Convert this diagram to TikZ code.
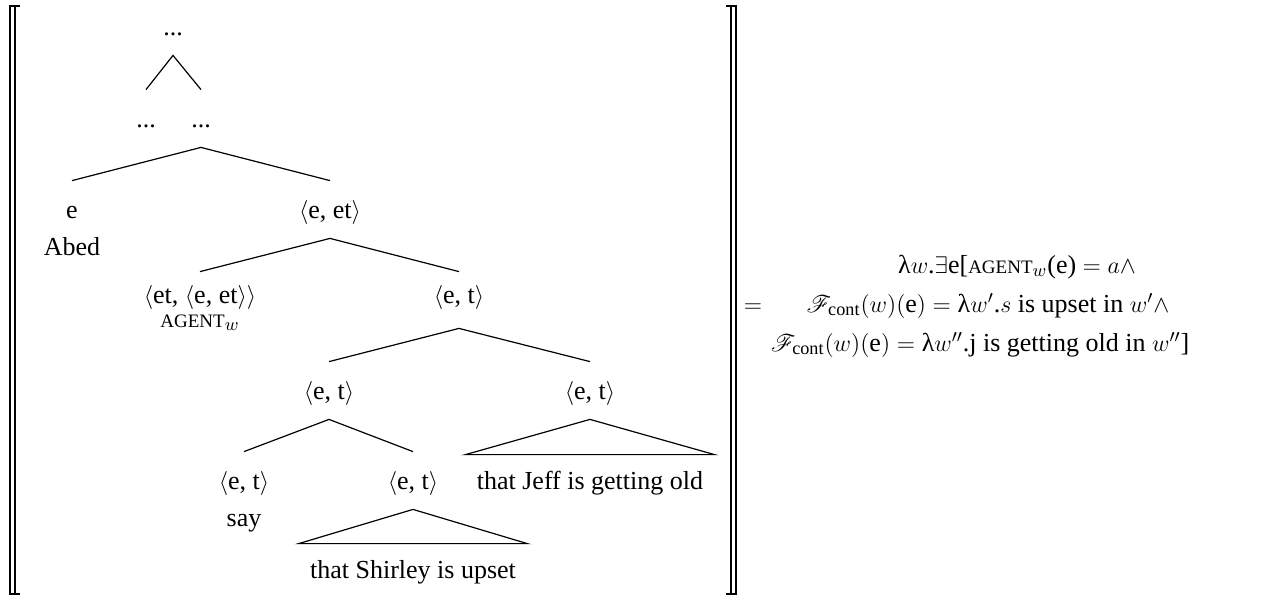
\documentclass[tikz,border=0pt]{standalone}
\usepackage{fontspec}
\usepackage{amsmath}
\usepackage{mathrsfs}
\setmainfont{Liberation Serif}
\newcommand{\tp}[1]{$\langle$#1$\rangle$}
\newcommand{\agt}{{\fontsize{9.5}{11}\selectfont AGENT}$_{w}$}
\newcommand{\Fc}{\mathscr{F}_{\text{cont}}}
\begin{document}
\begin{tikzpicture}[x=0.5pt,y=-0.5pt,
  lab/.style={anchor=base, inner sep=0pt, text height=18.5pt, text depth=10pt},
  lowlab/.style={lab, text height=15.5pt},
  plain/.style={anchor=base, inner sep=0pt},
  roof/.style={anchor=base, inner xsep=5.5pt, inner ysep=0pt, text height=17pt, text depth=4pt},
  branch/.style={line width=0.6pt},
  brk/.style={line width=0.8pt},
  every node/.style={font=\fontsize{13}{15}\selectfont}]
\useasboundingbox (0,0) rectangle (1274,596);
% brackets
\draw[brk] (20,6) -- (10,6) -- (10,594) -- (20,594);
\draw[brk] (15,6) -- (15,594);
\draw[brk] (726,6) -- (736,6) -- (736,594) -- (726,594);
\draw[brk] (731,6) -- (731,594);
% tree nodes
\node[lab] (top) at (173,35) {...};
\node[lab] (d1) at (146,127) {...};
\node[lab] (d2) at (201,127) {...};
\node[lab] (e) at (72,218) {e};
\node[plain] (abed) at (72,255) {Abed};
\node[lab] (eet) at (330,218) {\tp{e, et}};
\node[lowlab] (ag) at (200,303) {\tp{et, \tp{e, et}}};
\node[plain] (agent) at (200,327) {\agt};
\node[lowlab, text depth=12.5pt] (et1) at (459,303) {\tp{e, t}};
\node[lab] (et2) at (329,399) {\tp{e, t}};
\node[lab] (et3) at (590,399) {\tp{e, t}};
\node[lab] (et4) at (244,489) {\tp{e, t}};
\node[plain] (say) at (244,526) {say};
\node[lab] (et5) at (413,489) {\tp{e, t}};
\node[roof] (jeff) at (590,489) {that Jeff is getting old};
\node[roof] (shirley) at (413,578) {that Shirley is upset};
% branches
\draw[branch] (d1.north) -- (top.south) -- (d2.north);
\draw[branch] (e.north) -- (d2.south) -- (eet.north);
\draw[branch] (ag.north) -- (eet.south) -- (et1.north);
\draw[branch] (et2.north) -- (et1.south) -- (et3.north);
\draw[branch] (et4.north) -- (et2.south) -- (et5.north);
\draw[branch] (et3.south) -- (jeff.north west) -- (jeff.north east) -- cycle;
\draw[branch] (et5.south) -- (shirley.north west) -- (shirley.north east) -- cycle;
% formula
\node[plain] (eq) at (753,312) {$=$};
\node[plain] (f1) at (1017,273) {λ$w$.$\exists$e[\agt(e) $=$ $a\wedge$};
\node[plain] (f2) at (988,312) {$\Fc(w)(\text{e}) = \text{λ}w'$.$s$ is upset in $w'\wedge$};
\node[plain] (f3) at (980,351) {$\Fc(w)(\text{e}) = \text{λ}w''$.j is getting old in $w''$]};
\end{tikzpicture}
\end{document}
